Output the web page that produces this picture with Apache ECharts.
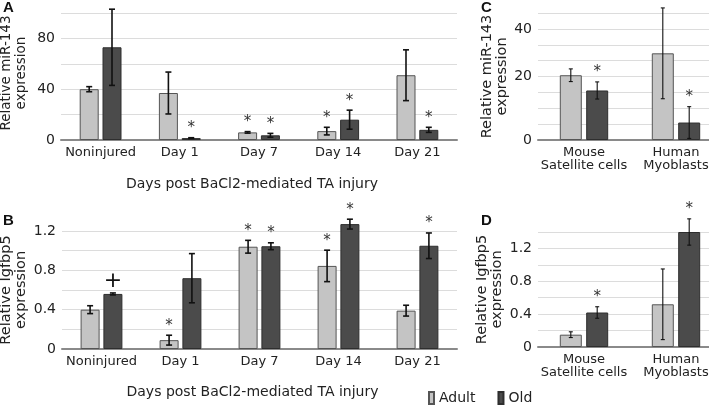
<!DOCTYPE html>
<html>
<head>
<meta charset="utf-8">
<script src="https://cdn.jsdelivr.net/npm/echarts@6/dist/echarts.min.js"></script>
<style>
html,body{margin:0;padding:0;background:#fff;}
#c{width:709px;height:405px;}
</style>
</head>
<body>
<div id="c"></div>
<script>
// ---------- DATA ----------
const daysCats = ['Noninjured', 'Day 1', 'Day 7', 'Day 14', 'Day 21'];
const cellCats = ['Mouse\nSatellite cells', 'Human\nMyoblasts'];

// Panel A: miR-143 after injury
const aAdult    = [40, 37, 6, 7, 51];
const aAdultErr = [2, 16.5, 0.6, 3, 20];
const aAdultMark= ['', '', '*', '*', ''];
const aOld      = [73, 1.5, 3.7, 16, 8];
const aOldErr   = [30, 0.3, 1.5, 7.5, 2];
const aOldMark  = ['', '*', '*', '*', '*'];
const aTickLabels = ['0', '40', '80'];

// Panel B: Igfbp5 after injury
const bAdult    = [0.40, 0.09, 1.04, 0.845, 0.39];
const bAdultErr = [0.04, 0.05, 0.065, 0.16, 0.055];
const bAdultMark= ['', '*', '*', '*', ''];
const bOld      = [0.56, 0.72, 1.045, 1.27, 1.05];
const bOldErr   = [0.01, 0.25, 0.035, 0.05, 0.13];
const bOldMark  = ['+', '', '*', '*', '*'];
const bTickLabels = ['0', '0.4', '0.8', '1.2'];

// Panel C: miR-143 in cells
const cAdult    = [20.4, 27.3];
const cAdultErr = [2, 14.3];
const cAdultMark= ['', ''];
const cOld      = [15.6, 5.5];
const cOldErr   = [2.7, 5];
const cOldMark  = ['*', '*'];
const cTickValues = [0, 20, 35];
const cTickLabels = ['0', '20', '40'];

// Panel D: Igfbp5 in cells
const dAdult    = [0.15, 0.52];
const dAdultErr = [0.035, 0.43];
const dAdultMark= ['', ''];
const dOld      = [0.42, 1.40];
const dOldErr   = [0.07, 0.16];
const dOldMark  = ['*', '*'];
const dTickLabels = ['0', '0.4', '0.8', '1.2'];

// ---------- STYLE ----------
const FONT = 'DejaVu Sans';
const ADULT_COLOR = '#c4c4c4';
const OLD_COLOR = '#4b4b4b';
const GRID_COLOR = '#dcdcdc';

function yAxis(idx, max, interval, formatter, name, nameGap, namePad, nameSize) {
  return {
    type: 'value', gridIndex: idx, min: 0, max: max, interval: interval,
    axisLine: {show: false}, axisTick: {show: false},
    splitLine: {lineStyle: {color: GRID_COLOR, width: 1.2}},
    axisLabel: {formatter: formatter, fontFamily: FONT, fontSize: 14, color: '#222', margin: 6},
    name: name, nameLocation: 'middle', nameGap: nameGap, nameRotate: 90, nameMoveOverlap: false,
    nameTextStyle: {fontFamily: FONT, fontSize: nameSize, color: '#222', lineHeight: 15, padding: namePad}
  };
}
function xAxis(idx, cats, name, nameGap) {
  return {
    type: 'category', gridIndex: idx, data: cats,
    axisLine: {lineStyle: {color: '#8a8a8a', width: 2}},
    axisTick: {show: false},
    axisLabel: {fontFamily: FONT, fontSize: 13, color: '#222', margin: 6, lineHeight: 13, interval: 0},
    name: name, nameLocation: 'middle', nameGap: nameGap,
    nameTextStyle: {fontFamily: FONT, fontSize: 14, color: '#222', padding: [0, 14, 0, 0]}
  };
}
function barSeries(name, idx, vals, color, border, barW, gap) {
  return {
    type: 'bar', name: name, xAxisIndex: idx, yAxisIndex: idx, data: vals,
    barWidth: barW, barGap: gap, clip: false, z: 2,
    itemStyle: {color: color, borderColor: border, borderWidth: 1}
  };
}
function errSeries(idx, vals, errs, marks, sign, barW, gapPx, capW, lw, markSize) {
  return {
    type: 'custom', xAxisIndex: idx, yAxisIndex: idx, z: 5, clip: false, silent: true,
    data: vals.map((v, i) => [i, v, errs[i]]),
    renderItem: function (params, api) {
      const i = api.value(0), v = api.value(1), e = api.value(2);
      const c = api.coord([i, v]);
      const hi = api.coord([i, v + e]);
      const lo = api.coord([i, Math.max(0, v - e)]);
      const x = c[0] + sign * (barW + gapPx) / 2;
      const st = {stroke: '#111', lineWidth: lw};
      const children = [
        {type: 'line', shape: {x1: x, y1: hi[1], x2: x, y2: lo[1]}, style: st},
        {type: 'line', shape: {x1: x - capW / 2, y1: hi[1], x2: x + capW / 2, y2: hi[1]}, style: st},
        {type: 'line', shape: {x1: x - capW / 2, y1: lo[1], x2: x + capW / 2, y2: lo[1]}, style: st}
      ];
      const m = marks[params.dataIndex];
      if (m === '*') {
        children.push({type: 'text', style: {text: '*', x: x, y: hi[1] - 2, align: 'center', verticalAlign: 'bottom',
          fontFamily: FONT, fontSize: markSize, fill: '#333'}});
      } else if (m === '+') {
        children.push({type: 'text', style: {text: '+', x: x, y: hi[1] - 1, align: 'center', verticalAlign: 'bottom',
          fontFamily: FONT, fontSize: 22, fill: '#111'}});
      }
      return {type: 'group', children: children};
    }
  };
}
function listFormatter(labels) {
  return function (v) {
    const s = String(Math.round(v * 100) / 100);
    return labels.indexOf(s) >= 0 ? s : '';
  };
}

const chart = echarts.init(document.getElementById('c'), null, {renderer: 'canvas'});
const gA = {left: 61, top: 13, width: 396, height: 127, outerBoundsMode: 'none', containLabel: false};
const gB = {left: 62, top: 231, width: 395, height: 118, outerBoundsMode: 'none', containLabel: false};
const gC = {left: 538, top: 13, width: 184, height: 127, outerBoundsMode: 'none', containLabel: false};
const gD = {left: 538, top: 232, width: 184, height: 115, outerBoundsMode: 'none', containLabel: false};

const option = {
  animation: false,
  backgroundColor: '#fff',
  grid: [gA, gB, gC, gD],
  legend: {
    left: 428, top: 391, padding: 0, itemWidth: 5, itemHeight: 12, itemGap: 22, icon: 'rect',
    data: ['Adult', 'Old'],
    textStyle: {fontFamily: FONT, fontSize: 14, color: '#222'}
  },
  xAxis: [
    xAxis(0, daysCats, 'Days post BaCl2-mediated TA injury', 37),
    xAxis(1, daysCats, 'Days post BaCl2-mediated TA injury', 36),
    xAxis(2, cellCats, '', 30),
    xAxis(3, cellCats, '', 30)
  ],
  yAxis: [
    yAxis(0, 100, 20, listFormatter(aTickLabels), 'Relative miR-143\nexpression', 32, [0, 0, 0, 7], 13.5),
    yAxis(1, 1.2, 0.2, listFormatter(bTickLabels), 'Relative Igfbp5\nexpression', 33, [0, 0, 0, 0], 14.5),
    yAxis(2, 40, 5, function (v) { const k = cTickValues.indexOf(v); return k >= 0 ? cTickLabels[k] : ''; },
      'Relative miR-143\nexpression', 28, [0, 0, 0, 0], 14.5),
    yAxis(3, 1.4, 0.2, listFormatter(dTickLabels), 'Relative Igfbp5\nexpression', 33, [0, 0, 0, 0], 14.5)
  ],
  graphic: [
    {type: 'text', left: 3, top: 0, style: {text: 'A', fontFamily: 'Liberation Sans', fontWeight: 'bold', fontSize: 15, fill: '#111'}},
    {type: 'text', left: 3, top: 213, style: {text: 'B', fontFamily: 'Liberation Sans', fontWeight: 'bold', fontSize: 15, fill: '#111'}},
    {type: 'text', left: 481, top: 0, style: {text: 'C', fontFamily: 'Liberation Sans', fontWeight: 'bold', fontSize: 15, fill: '#111'}},
    {type: 'text', left: 481, top: 213, style: {text: 'D', fontFamily: 'Liberation Sans', fontWeight: 'bold', fontSize: 15, fill: '#111'}}
  ],
  series: [
    barSeries('Adult', 0, aAdult, ADULT_COLOR, '#555', 19, '20%'),
    barSeries('Old', 0, aOld, OLD_COLOR, '#2e2e2e', 19, '20%'),
    errSeries(0, aAdult, aAdultErr, aAdultMark, -1, 19, 3.8, 6, 1.6, 15),
    errSeries(0, aOld, aOldErr, aOldMark, 1, 19, 3.8, 6, 1.6, 15),

    barSeries('Adult', 1, bAdult, ADULT_COLOR, '#555', 19, '20%'),
    barSeries('Old', 1, bOld, OLD_COLOR, '#2e2e2e', 19, '20%'),
    errSeries(1, bAdult, bAdultErr, bAdultMark, -1, 19, 3.8, 6, 1.6, 15),
    errSeries(1, bOld, bOldErr, bOldMark, 1, 19, 3.8, 6, 1.6, 15),

    barSeries('Adult', 2, cAdult, ADULT_COLOR, '#555', 22, '20%'),
    barSeries('Old', 2, cOld, OLD_COLOR, '#2e2e2e', 22, '20%'),
    errSeries(2, cAdult, cAdultErr, cAdultMark, -1, 22, 4.4, 4, 1.1, 15),
    errSeries(2, cOld, cOldErr, cOldMark, 1, 22, 4.4, 4, 1.1, 15),

    barSeries('Adult', 3, dAdult, ADULT_COLOR, '#555', 22, '20%'),
    barSeries('Old', 3, dOld, OLD_COLOR, '#2e2e2e', 22, '20%'),
    errSeries(3, dAdult, dAdultErr, dAdultMark, -1, 22, 4.4, 4, 1.1, 15),
    errSeries(3, dOld, dOldErr, dOldMark, 1, 22, 4.4, 4, 1.1, 15)
  ]
};
chart.setOption(option);
</script>
</body>
</html>
